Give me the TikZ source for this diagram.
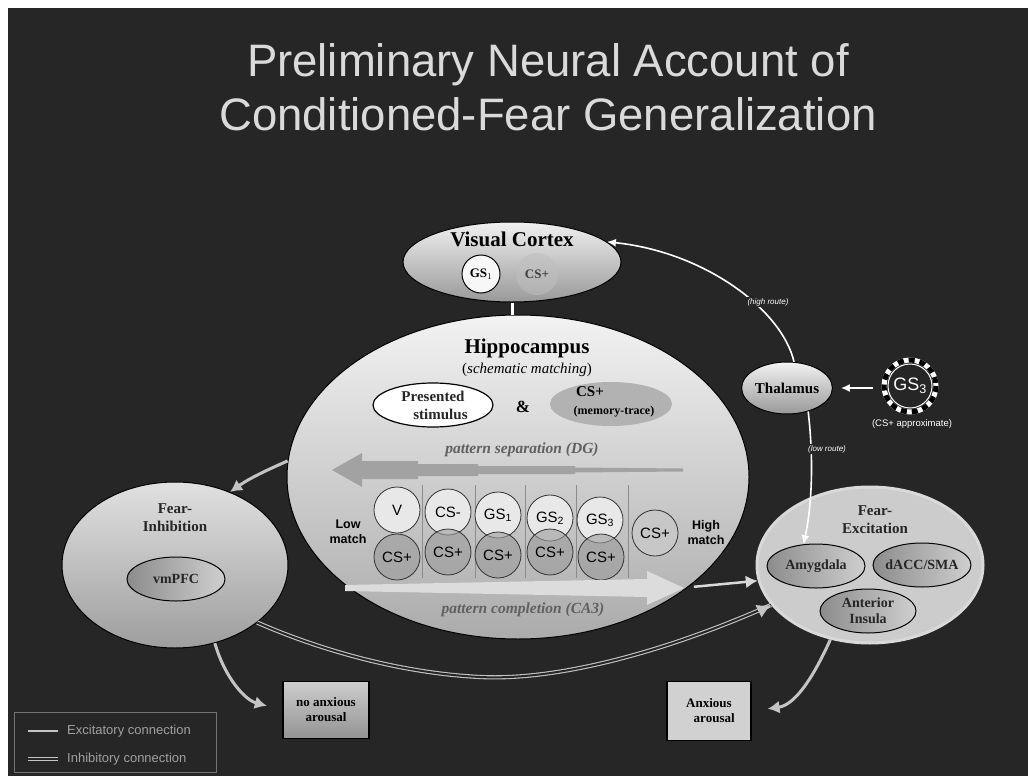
\documentclass[tikz,border=0pt]{standalone}
\usepackage{fontspec}
\setmainfont{Liberation Serif}
\setsansfont{Liberation Sans}
\usetikzlibrary{shapes.geometric,arrows.meta,calc}
\definecolor{bg}{HTML}{262626}
\definecolor{titlegray}{HTML}{DADADA}
\definecolor{arrgrey}{HTML}{C4C4C4}
\definecolor{subdark}{HTML}{8C8C8C}
\definecolor{sublight}{HTML}{CFCFCF}
\definecolor{toprowc}{HTML}{E8E8E8}
\definecolor{botrowc}{HTML}{9A9A9A}
\definecolor{sepgrey}{HTML}{A2A2A2}
\definecolor{complc}{HTML}{DCDCDC}
\definecolor{patterntext}{HTML}{606060}
\definecolor{legendgrey}{HTML}{A0A0A0}
\tikzset{
  bigtitle/.style={font=\sffamily\fontsize{45.5}{52}\selectfont, text=titlegray, anchor=base, inner sep=0pt},
  regionlbl/.style={font=\bfseries\fontsize{21}{24}\selectfont, text=black, inner sep=0pt},
  sublbl/.style={font=\bfseries\fontsize{15}{18}\selectfont, text=black!85, align=center, inner sep=0pt},
  smalllbl/.style={font=\bfseries\fontsize{14}{16}\selectfont, text=black!85, align=center, inner sep=0pt},
  region/.style={ellipse, draw=black, line width=1pt, inner sep=0pt},
  subreg/.style={ellipse, draw=black, line width=1pt, inner sep=0pt, left color=subdark, right color=sublight},
  cell/.style={circle, draw=black!80, line width=0.8pt, minimum size=46pt, inner sep=0pt, font=\sffamily\fontsize{15}{17}\selectfont},
  toprow/.style={cell, fill=toprowc},
  botrow/.style={cell, fill=botrowc, fill opacity=0.6, text opacity=1},
  excit/.style={draw=white, line width=1.6pt, -{Latex[length=9pt,width=8pt]}},
  greyarr/.style={draw=arrgrey, line width=3pt, -{Latex[length=12pt,width=13pt]}},
  inhib/.style={draw=arrgrey, line width=1.1pt, double=bg, double distance=2pt},
  outbox/.style={draw=black, line width=1.5pt, minimum width=86pt, minimum height=57pt, align=center, font=\bfseries\fontsize{13}{15}\selectfont},
  routelbl/.style={font=\itshape\sffamily\fontsize{8}{9}\selectfont, text=white, fill=bg, inner sep=1pt},
  legendtxt/.style={font=\sffamily\fontsize{13}{15}\selectfont, text=legendgrey, anchor=west, inner sep=0pt},
  matchlbl/.style={font=\sffamily\bfseries\fontsize{12.5}{15}\selectfont, align=center, inner sep=0pt},
  pattern/.style={font=\bfseries\itshape\fontsize{15.5}{18}\selectfont, text=patterntext, inner sep=0pt}
}
\begin{document}
\begin{tikzpicture}[x=1pt,y=-1pt]
\useasboundingbox (0,0) rectangle (1028,776);
\fill[white] (0,0) rectangle (1028,776);
\fill[bg] (8,8) rectangle (1028,776);

% title
\node[bigtitle] (title1) at (548,77) {Preliminary Neural Account of};
\node[bigtitle] (title2) at (548,130) {Conditioned-Fear Generalization};

% regions
\node[region, minimum width=218pt, minimum height=80pt, top color=white!94!black, bottom color=black!40] (vc) at (512,262) {};
\node[region, minimum width=462pt, minimum height=324pt, top color=white!95!black, bottom color=black!33] (hip) at (518,477) {};
\node[region, minimum width=226pt, minimum height=166pt, top color=white!88!black, bottom color=black!38] (fi) at (175,565) {};
\node[ellipse, draw=white!85!black, line width=3pt, inner sep=0pt, minimum width=226pt, minimum height=156pt, fill=white!80!black] (fe) at (870,565) {};
\node[region, minimum width=87pt, minimum height=52pt, top color=white!95!black, bottom color=black!40, font=\bfseries\fontsize{15}{17}\selectfont] (thal) at (787,388) {Thalamus};

% visual cortex content
\node[regionlbl] (vclbl) at (512,239) {Visual Cortex};
\node[circle, draw=black, line width=1pt, fill=white!97!black, minimum size=38pt, inner sep=0pt, font=\bfseries\fontsize{13}{15}\selectfont] (vcgs) at (481,274) {GS$_1$};
\node[circle, fill=black!25, fill opacity=0.55, text opacity=1, minimum size=42pt, inner sep=0pt, font=\bfseries\fontsize{13}{15}\selectfont, text=black!75] (vccs) at (537,274) {CS+};

% hippocampus content
\node[regionlbl] (hiplbl) at (527,348) {Hippocampus};
\node[font=\fontsize{15}{18}\selectfont, inner sep=0pt] (hipsub) at (527,370) {(\textit{schematic matching})};
\node[ellipse, draw=black, line width=1.2pt, fill=white, minimum width=120pt, minimum height=44pt, inner sep=0pt] (ps) at (433,405) {};
\node[sublbl] (pstxt) at (433,405) {Presented\\\hspace*{1em}stimulus};
\node[font=\bfseries\fontsize{17}{20}\selectfont, inner sep=0pt] (amp) at (523,407) {\&};
\node[ellipse, fill=black!30, minimum width=122pt, minimum height=44pt, inner sep=0pt] (mt) at (611,404) {};
\node[font=\bfseries\fontsize{15}{17}\selectfont, inner sep=0pt] (mtcs) at (590,392) {CS+};
\node[font=\bfseries\fontsize{12}{14}\selectfont, inner sep=0pt] (mttr) at (614,412) {(memory-trace)};

\node[pattern] (sep) at (522,450) {pattern separation (DG)};
\fill[sepgrey] (332,470) -- (362,453) -- (362,461) -- (418,461) -- (418,464) -- (478,464) -- (478,466) -- (575,466) -- (575,467.5) -- (683,468.5) -- (683,471.5) -- (575,472.5) -- (575,474) -- (478,474) -- (478,476) -- (418,476) -- (418,479) -- (362,479) -- (362,487) -- cycle;

\foreach \xx in {422,475,525,576,628}
  \draw[black!45, line width=0.6pt] (\xx,485) -- (\xx,578);

\node[toprow] (c1) at (397,510) {V};
\node[toprow] (c2) at (448,512) {CS-};
\node[toprow] (c3) at (498,515) {GS\textsubscript{1}};
\node[toprow] (c4) at (550,518) {GS\textsubscript{2}};
\node[toprow] (c5) at (600,520) {GS\textsubscript{3}};
\node[botrow] (d1) at (397,557) {CS+};
\node[botrow] (d2) at (448,552) {CS+};
\node[botrow] (d3) at (498,555) {CS+};
\node[botrow] (d4) at (550,552) {CS+};
\node[botrow] (d5) at (601,557) {CS+};
\node[toprow, fill=black!22] (d6) at (655,533) {CS+};
\node[matchlbl] (low) at (348,532) {Low\\match};
\node[matchlbl] (high) at (706,533) {High\\match};

\fill[complc] (345,585) -- (647,579) -- (647,571) -- (684,588) -- (647,605) -- (647,597) -- (345,591) -- cycle;
\node[pattern] (compl) at (523,610) {pattern completion (CA3)};

% fear inhibition content
\node[sublbl] (filbl) at (175,518) {Fear-\\Inhibition};
\node[subreg, minimum width=98pt, minimum height=44pt] (vmpfc) at (176,579) {};
\node[smalllbl] (vmpfctxt) at (176,579) {vmPFC};

% fear excitation content
\node[sublbl] (felbl) at (875,520) {Fear-\\Excitation};
\node[subreg, minimum width=98pt, minimum height=44pt] (amy) at (816,566) {};
\node[smalllbl] (amytxt) at (816,566) {Amygdala};
\node[subreg, minimum width=98pt, minimum height=44pt] (dacc) at (922,565) {};
\node[smalllbl] (dacctxt) at (922,565) {dACC/SMA};
\node[subreg, minimum width=96pt, minimum height=44pt] (ins) at (868,611) {};
\node[smalllbl] (instxt) at (868,611) {Anterior\\Insula};

% GS3 stimulus
\draw[white, line width=5pt] (910,386) circle (26);
\draw[black, line width=5pt, dash pattern=on 6pt off 5pt] (910,386) circle (26);
\node[circle, fill=bg, draw=white, line width=1pt, minimum size=44pt, inner sep=0pt, text=white, font=\sffamily\fontsize{18}{20}\selectfont] (gs3) at (910,386) {GS\textsubscript{3}};
\node[font=\sffamily\fontsize{9.5}{11}\selectfont, text=white, inner sep=0pt] (gs3lbl) at (912,424) {(CS+ approximate)};

% output boxes
\node[outbox, top color=black!20, bottom color=black!42] (noa) at (326,710) {no anxious\\arousal};
\node[outbox, fill=black!18, minimum width=84pt, minimum height=59pt] (anx) at (709,711) {Anxious\\\hspace*{0.8em}arousal};

% connectors
\draw[white, line width=3pt] (vc.south) -- (vc.south |- hip.north);
\draw[excit] (thal.75) .. controls (782,310) and (705,252) .. (vc.12);
\node[routelbl] (hr) at (768,302) {(high route)};
\draw[excit] (thal.-48) .. controls (815,470) and (810,515) .. (amy.120);
\node[routelbl] (lr) at (827,449) {(low route)};
\draw[excit, shorten <=15pt, shorten >=8pt] (gs3.west |- thal) -- (thal.east);

\draw[greyarr] (hip.176) .. controls (265,471) and (250,478) .. (fi.53);
\draw[greyarr, draw=white!85!black, line width=2.5pt, shorten <=6pt] (hip.-33) -- (fe.188);
\draw[inhib] (fi.-35) .. controls (320,650) and (400,673) .. (480,677) .. controls (560,681) and (670,650) .. (fe.202);
\draw[draw=arrgrey, line width=1pt, -{Latex[length=14pt,width=14pt]}] ($(fe.202)+(-12,6)$) -- (fe.202);
\draw[greyarr, shorten >=16pt] (fi.-63) .. controls (225,678) and (245,700) .. (noa.west);
\draw[greyarr, shorten >=16pt] (fe.-118) .. controls (813,678) and (795,705) .. (anx.east);

% legend
\node[draw=black!55, line width=1pt, minimum width=202pt, minimum height=60pt, inner sep=0pt] (legend) at (115,742) {};
\draw[arrgrey, line width=2.5pt] (28,731) -- (58,731);
\draw[inhib, line width=1.2pt] (28,759) -- (58,759);
\node[legendtxt] (exlbl) at (67,731) {Excitatory connection};
\node[legendtxt] (inlbl) at (67,759) {Inhibitory connection};
\end{tikzpicture}
\end{document}
